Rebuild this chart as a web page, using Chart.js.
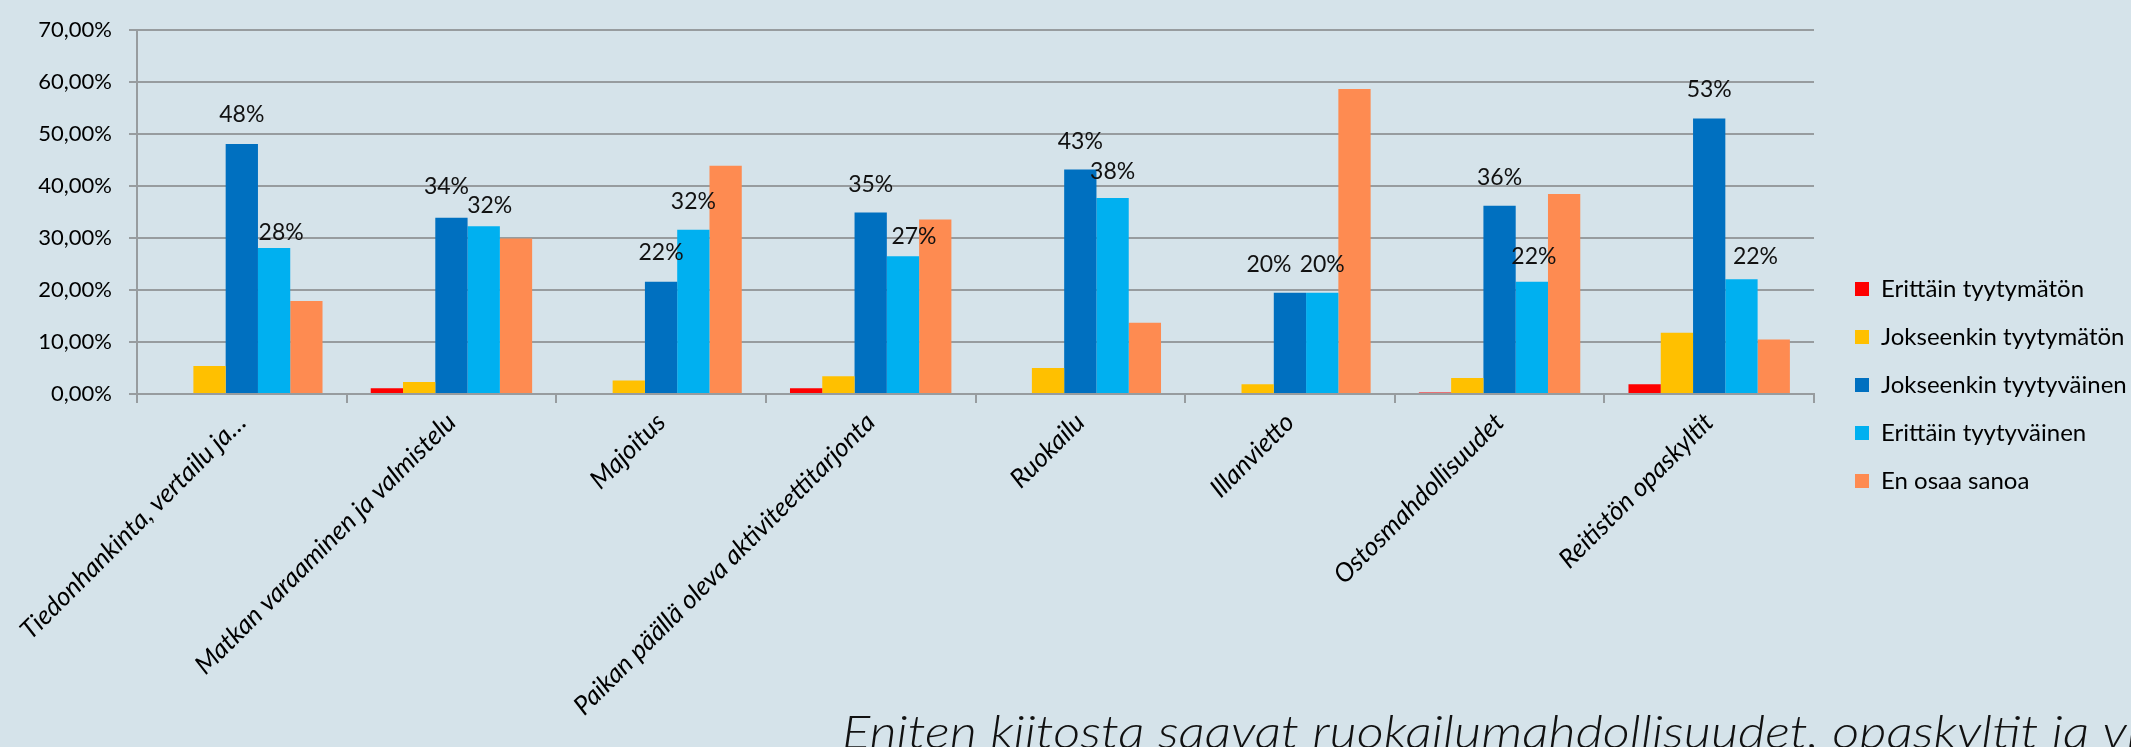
<!DOCTYPE html>
<html>
<head>
<meta charset="utf-8">
<script src="https://cdn.jsdelivr.net/npm/chart.js@4.4.0/dist/chart.umd.min.js"></script>
<style>
    html, body { margin: 0; padding: 0; background: #d5e3ea; }
    #wrap { width: 2131px; height: 747px; position: relative; }
</style>
</head>
<body>
<div id="wrap"><canvas id="mainChart"></canvas></div>
<script>
// data (percent)
const categories = [
    'Tiedonhankinta, vertailu ja\u2026',
    'Matkan varaaminen ja valmistelu',
    'Majoitus',
    'Paikan päällä oleva aktiviteettitarjonta',
    'Ruokailu',
    'Illanvietto',
    'Ostosmahdollisuudet',
    'Reitistön opaskyltit'
];

const seriesNames = ['Erittäin tyytymätön', 'Jokseenkin tyytymätön', 'Jokseenkin tyytyväinen', 'Erittäin tyytyväinen', 'En osaa sanoa'];
const erittainTyytymaton = [0, 1.1, 0, 1.1, 0, 0, 0.3, 1.9];
const jokseenkinTyytymaton = [5.4, 2.3, 2.6, 3.4, 5.0, 1.9, 3.1, 11.8];
const jokseenkinTyytyvainen = [48.1, 33.9, 21.6, 34.9, 43.2, 19.5, 36.2, 53.0];
const erittainTyytyvainen = [28.1, 32.3, 31.6, 26.5, 37.7, 19.5, 21.6, 22.1];
const enOsaaSanoa = [17.9, 29.9, 43.9, 33.6, 13.7, 58.7, 38.5, 10.5];
const yTicks = [0, 10, 20, 30, 40, 50, 60, 70];

const noteText = 'Eniten kiitosta saavat ruokailumahdollisuudet, opaskyltit ja vi';

// label nudges [dx, rise above bar top] for the two labelled series
const darkShift = [[0, 29], [-5, 31], [0, 29], [0, 28], [0, 28], [-21, 28], [0, 28], [0, 29]];
const lightShift = [[7, 15], [6, 21], [0, 28], [11, 20], [0, 26], [0, 28], [2, 25], [14, 23]];

const colors = ['#fe0000', '#ffc000', '#0070c0', '#00b0f0', '#fe8b51'];
const gridColor = '#979c9f';

const valueLabels = {
    id: 'valueLabels',
    afterDatasetsDraw(chart) {
        const ctx = chart.ctx;
        ctx.save();
        ctx.font = '23px Lato';
        ctx.fillStyle = '#111';
        ctx.textAlign = 'center';
        ctx.textBaseline = 'middle';
        [[2, darkShift], [3, lightShift]].forEach(([di, shift]) => {
            const meta = chart.getDatasetMeta(di);
            meta.data.forEach((bar, i) => {
                const v = chart.data.datasets[di].data[i];
                ctx.fillText(Math.round(v) + '%', bar.x + shift[i][0], bar.y - shift[i][1]);
            });
        });
        ctx.restore();
    }
};

const legendPlace = {
    id: 'legendPlace',
    beforeInit(chart) {
        const fit = chart.legend.fit;
        chart.legend.fit = function () {
            fit.call(this);
            this.width = 317;
        };
    },
    afterLayout(chart) {
        const lg = chart.legend;
        lg.left += 17; lg.right += 17;
    }
};

const note = {
    id: 'note',
    afterDraw(chart) {
        const ctx = chart.ctx;
        ctx.save();
        ctx.font = 'italic 300 46px Lato';
        ctx.fillStyle = '#111';
        ctx.textBaseline = 'alphabetic';
        const w = ctx.measureText(noteText).width;
        ctx.translate(842, 748);
        ctx.scale((2138 - 842) / w, 1);
        ctx.fillText(noteText, 0, 0);
        ctx.restore();
    }
};

function build() {
    const series = [erittainTyytymaton, jokseenkinTyytymaton, jokseenkinTyytyvainen, erittainTyytyvainen, enOsaaSanoa];
    Chart.defaults.font.family = 'Lato';
    Chart.defaults.color = '#111';

    new Chart(document.getElementById('mainChart'), {
        type: 'bar',
        data: {
            labels: categories,
            datasets: series.map((d, i) => ({
                label: seriesNames[i],
                data: d,
                backgroundColor: colors[i],
                barPercentage: 1,
                categoryPercentage: 0.77
            }))
        },
        options: {
            responsive: true,
            maintainAspectRatio: false,
            animation: false,
            layout: { padding: { top: 23, left: 0, right: 0, bottom: 0 } },
            plugins: {
                tooltip: { enabled: false },
                legend: {
                    position: 'right',
                    labels: {
                        boxWidth: 14,
                        boxHeight: 14,
                        padding: 24,
                        color: '#000',
                        font: { size: 24 }
                    }
                }
            },
            scales: {
                x: {
                    afterFit: s => { s.height = 353; },
                    grid: { display: true, drawOnChartArea: false, tickLength: 9, color: gridColor, lineWidth: 2 },
                    border: { display: true, color: gridColor, width: 2 },
                    ticks: {
                        autoSkip: false,
                        maxRotation: 45,
                        minRotation: 45,
                        padding: 4,
                        color: '#000',
                        font: { size: 26, style: 'italic' }
                    }
                },
                y: {
                    min: 0,
                    max: 70,
                    afterFit: s => { s.width = 137; },
                    afterBuildTicks: s => { s.ticks = yTicks.map(v => ({ value: v })); },
                    grid: { color: gridColor, lineWidth: 2, tickLength: 8 },
                    border: { display: true, color: gridColor, width: 2 },
                    ticks: {
                        padding: 17,
                        color: '#000',
                        font: { size: 22 },
                        callback: v => v.toFixed(2).replace('.', ',') + '%'
                    }
                }
            }
        },
        plugins: [valueLabels, legendPlace, note]
    });
}

Promise.all([
    document.fonts.load('22px Lato'),
    document.fonts.load('italic 26px Lato'),
    document.fonts.load('italic 300 46px Lato')
]).then(build, build);
</script>
</body>
</html>
